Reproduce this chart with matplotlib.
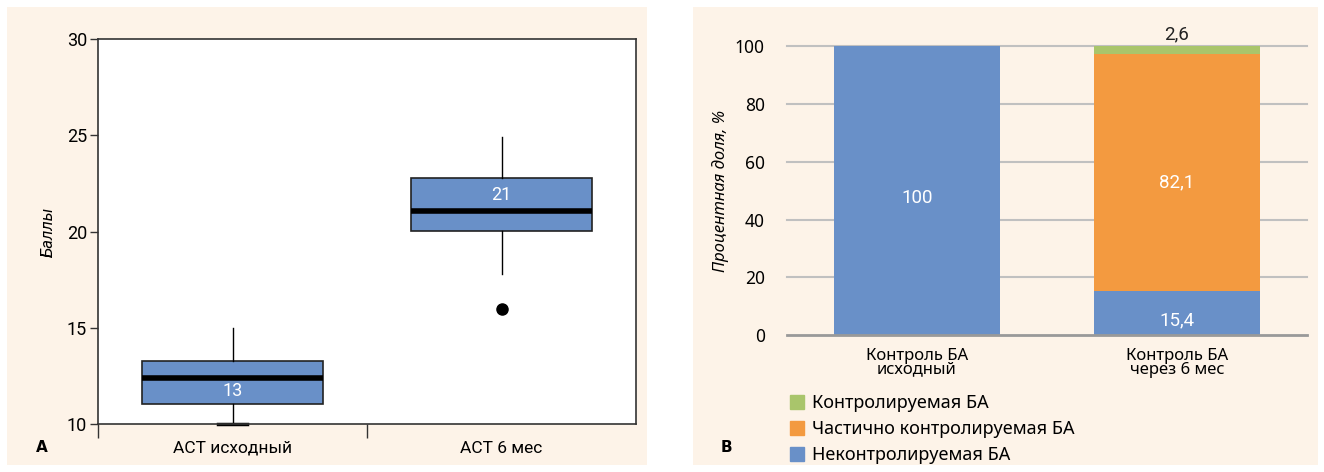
import matplotlib.pyplot as plt
from matplotlib.patches import Rectangle, Patch

# ---- data: panel A (ACT scores, boxplot stats) ----
act_groups = ["АСТ исходный", "АСТ 6 мес"]
act_q1 = [11.05, 20.05]
act_med = [12.4, 21.05]
act_q3 = [13.28, 22.78]
act_whislo = [10.0, 17.8]
act_whishi = [15.0, 24.9]
act_fliers = [[], [16.0]]
act_labels = ["13", "21"]
act_label_side = ["below", "above"]

# ---- data: panel B (asthma control, %) ----
ctrl_groups = ["Контроль БА\nисходный", "Контроль БА\nчерез 6 мес"]
uncontrolled = [100.0, 15.4]
partial = [0.0, 82.1]
controlled = [0.0, 2.6]
series_names = ["Неконтролируемая БА", "Частично контролируемая БА", "Контролируемая БА"]

blue = "#6990c8"
orange = "#f39a40"
green = "#a9c56b"
cream = "#fdf3e8"

narrow = ["Liberation Sans Narrow", "Roboto", "DejaVu Sans"]
wide = ["Noto Sans", "DejaVu Sans"]

W, H = 1324, 472
fig = plt.figure(figsize=(W / 100, H / 100), dpi=100)
fig.patch.set_facecolor("white")

# panel backgrounds
for x0, x1 in [(7, 647), (693, 1318)]:
    fig.patches.append(Rectangle((x0 / W, 1 - 465 / H), (x1 - x0) / W, (465 - 7) / H,
                                 transform=fig.transFigure, facecolor=cream,
                                 edgecolor="none", zorder=-5))

# ================= panel A =================
axA = fig.add_axes([98 / W, 1 - 424 / H, 538 / W, 385 / H])
axA.set_facecolor("white")
stats = []
for i in range(len(act_groups)):
    stats.append(dict(q1=act_q1[i], med=act_med[i], q3=act_q3[i],
                      whislo=act_whislo[i], whishi=act_whishi[i],
                      fliers=act_fliers[i]))
pos = [0.5, 1.5]
bp = axA.bxp(stats, positions=pos, widths=0.67, patch_artist=True,
             capwidths=[0.11, 0.0],
             boxprops=dict(facecolor=blue, edgecolor="#222222", linewidth=1.2),
             medianprops=dict(color="black", linewidth=4),
             whiskerprops=dict(color="black", linewidth=1),
             capprops=dict(color="black", linewidth=2.5),
             flierprops=dict(marker="o", markerfacecolor="black",
                             markeredgecolor="black", markersize=8))
for c in bp["caps"]:
    c.set_clip_on(False)
bp["caps"][1].set_visible(False)  # only the lower cap of the first box shows

for i, p in enumerate(pos):
    edge = act_q1[i] if act_label_side[i] == "below" else act_q3[i]
    axA.text(p, (act_med[i] + edge) / 2, act_labels[i], color="white",
             ha="center", va="center", fontsize=13, family=narrow)

axA.set_xlim(0, 2)
axA.set_ylim(10, 30)
axA.set_yticks([10, 15, 20, 25, 30])
axA.set_xticks([0, 1])
axA.set_xticklabels([])
axA.set_xticks(pos, minor=True)
axA.set_xticklabels(act_groups, minor=True, family=narrow, fontsize=12.5)
axA.tick_params(axis="x", which="major", length=10, width=1, color="#333333")
axA.tick_params(axis="x", which="minor", length=0, pad=12)
axA.tick_params(axis="y", length=6, width=1, color="#333333", labelsize=13, pad=2)
for lab in axA.get_yticklabels():
    lab.set_family(narrow)
for s in axA.spines.values():
    s.set_color("#333333")
    s.set_linewidth(1.2)
axA.set_ylabel("Баллы", fontstyle="italic", family=narrow, fontsize=12, labelpad=8)

# ================= panel B =================
axB = fig.add_axes([787 / W, 1 - 335 / H, 520 / W, 288.7 / H])
axB.set_facecolor(cream)
x = list(range(len(ctrl_groups)))
bw = 0.64
b1 = axB.bar(x, uncontrolled, width=bw, color=blue, zorder=2)
bottom2 = [u + p for u, p in zip(uncontrolled, partial)]
b2 = axB.bar(x, partial, width=bw, bottom=uncontrolled, color=orange, zorder=2)
b3 = axB.bar(x, controlled, width=bw, bottom=bottom2, color=green, zorder=2)

for i in x:
    if uncontrolled[i] > 0:
        axB.text(i, uncontrolled[i] / 2 - 2.5, f"{uncontrolled[i]:g}".replace(".", ","),
                 color="white", ha="center", va="center", fontsize=13.5, family=narrow)
    if partial[i] > 0:
        axB.text(i, uncontrolled[i] + partial[i] / 2 - 3.5, f"{partial[i]:g}".replace(".", ","),
                 color="white", ha="center", va="center", fontsize=13.5, family=narrow)
    if controlled[i] > 0:
        axB.annotate(f"{controlled[i]:g}".replace(".", ","), (i, bottom2[i] + controlled[i]),
                     xytext=(0, 2), textcoords="offset points", ha="center", va="bottom",
                     fontsize=13.5, family=narrow, color="#222222")

axB.set_xlim(-0.5, 1.5)
axB.set_ylim(0, 100)
axB.set_yticks([0, 20, 40, 60, 80, 100])
for t in [20, 40, 60, 80, 100]:
    axB.axhline(t, color="#c0c0c0", linewidth=1.5, zorder=1, clip_on=False)
axB.axhline(0, color="#999999", linewidth=2, zorder=3, clip_on=False)
for s in axB.spines.values():
    s.set_visible(False)
axB.tick_params(axis="y", length=0, pad=16, labelsize=12.5)
axB.tick_params(axis="x", length=0, pad=9)
axB.set_xticks(x)
axB.set_xticklabels(ctrl_groups, family=wide, fontsize=12, linespacing=0.85)
for lab in axB.get_yticklabels():
    lab.set_family(wide)
axB.set_ylabel("Процентная доля, %", fontstyle="italic", family=wide,
               fontsize=12, labelpad=4)

handles = [Patch(color=green), Patch(color=orange), Patch(color=blue)]
fig.legend(handles, series_names[::-1], loc="upper left",
           bbox_to_anchor=(790 / W, 1 - 394 / H), frameon=False,
           prop=dict(family=wide, size=13), handlelength=0.8, handleheight=0.8,
           handletextpad=0.4, labelspacing=0.45, borderpad=0, borderaxespad=0)

# panel letters
fig.text(42 / W, 1 - 447 / H, "A", fontweight="bold", fontsize=11,
         ha="center", va="center", family="DejaVu Sans")
fig.text(726 / W, 1 - 447 / H, "B", fontweight="bold", fontsize=11,
         ha="center", va="center", family="DejaVu Sans")

fig.savefig("out.png", dpi=100, facecolor="white")
